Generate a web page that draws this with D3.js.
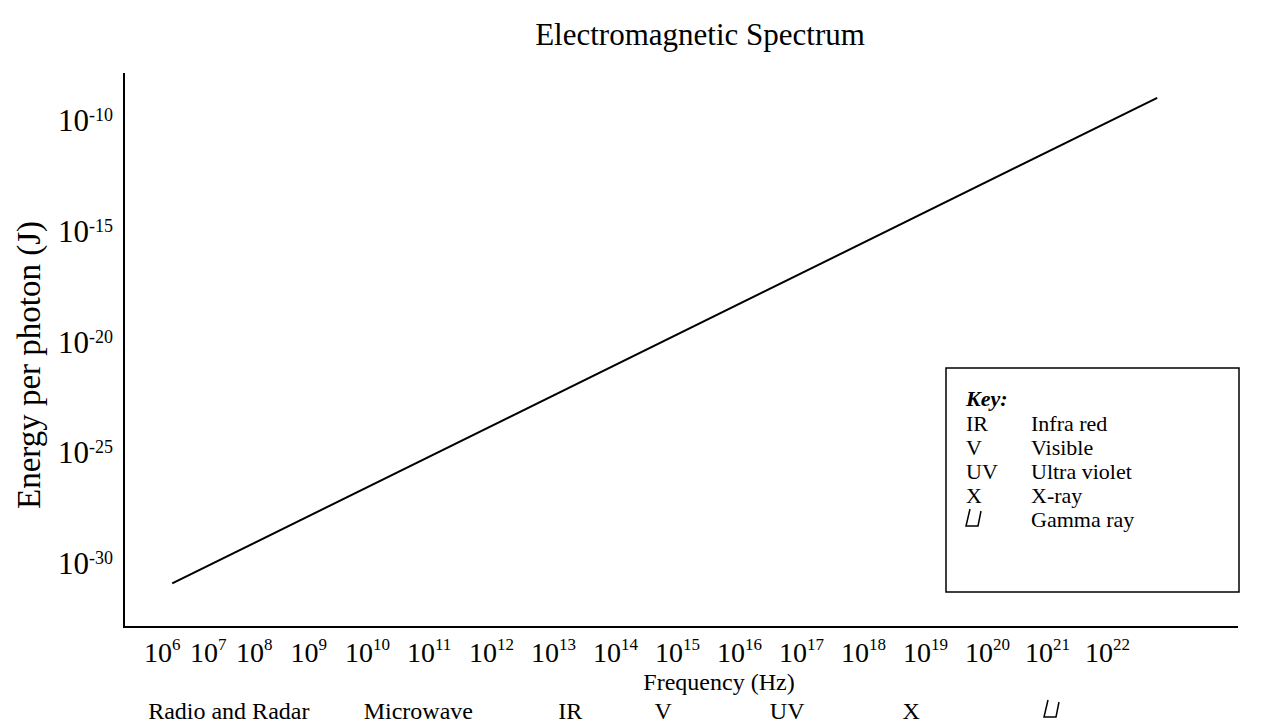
<!DOCTYPE html>
<html lang="en">
<head>
<meta charset="UTF-8">
<title>Electromagnetic Spectrum</title>
<style>
body { margin: 0; background: #fff; }
text { font-family: "Liberation Serif", "Times New Roman", serif; fill: #000; }
</style>
</head>
<body>
<div id="chart"></div>
<script src="https://cdnjs.cloudflare.com/ajax/libs/d3/7.8.2/d3.min.js"></script>
<script>
// frequency tick exponents (10^n Hz)
var freqTicks = [6, 7, 8, 9, 10, 11, 12, 13, 14, 15, 16, 17, 18, 19, 20, 21, 22];
// energy tick exponents (10^n J)
var energyTicks = [-10, -15, -20, -25, -30];
// the plotted line, log10 values
var lineFreq = [6.57, 23.17];
var lineEnergy = [-30.92, -9.0];
// spectrum bands under the axis, centred at these log10 frequencies
var bandNames = ["Radio and Radar", "Microwave", "IR", "V", "UV", "X", "\u03b3"];
var bandFreq = [7.8, 11.15, 13.6, 15.1, 17.1, 19.1, 21.4];
// key
var keyCodes = ["IR", "V", "UV", "X", "\u03b3"];
var keyNames = ["Infra red", "Visible", "Ultra violet", "X-ray", "Gamma ray"];

var width = 1266, height = 727;
var frameL = 124, frameR = 1238, frameT = 73, frameB = 627;

var svg = d3.select("#chart").append("svg")
  .attr("width", width)
  .attr("height", height);

// the label spacing is uneven in the original, so the scale is piecewise
var x = d3.scaleLinear()
  .domain([6, 8, 10, 20, 22])
  .range([146, 238, 347, 967, 1087]);

var y = d3.scaleLinear()
  .domain([-30, -10])
  .range([563, 120]);

// title
svg.append("text")
  .attr("x", 700).attr("y", 45)
  .attr("text-anchor", "middle")
  .attr("font-size", 31)
  .text("Electromagnetic Spectrum");

// frame
svg.append("line")
  .attr("x1", frameL).attr("x2", frameL).attr("y1", frameT).attr("y2", frameB)
  .attr("stroke", "#000").attr("stroke-width", 2);
svg.append("line")
  .attr("x1", frameL - 1).attr("x2", frameR).attr("y1", frameB).attr("y2", frameB)
  .attr("stroke", "#000").attr("stroke-width", 2);

// y tick labels
var yt = svg.selectAll(".ytick")
  .data(energyTicks)
  .enter().append("text")
  .attr("class", "ytick")
  .attr("x", 58)
  .attr("y", function(d) { return y(d) + 11; })
  .attr("font-size", 31);
yt.append("tspan").text("10");
yt.append("tspan")
  .attr("font-size", 18)
  .attr("dy", -10)
  .text(function(d) { return "-" + Math.abs(d); });

// x tick labels
var xt = svg.selectAll(".xtick")
  .data(freqTicks)
  .enter().append("text")
  .attr("class", "xtick")
  .attr("x", function(d) { return x(d) - 2; })
  .attr("y", 662)
  .attr("font-size", 28);
xt.append("tspan").text("10");
xt.append("tspan")
  .attr("font-size", 17)
  .attr("dy", -12)
  .text(function(d) { return d; });

// axis titles
svg.append("text")
  .attr("transform", "translate(40," + 365 + ") rotate(-90)")
  .attr("text-anchor", "middle")
  .attr("font-size", 33)
  .text("Energy per photon (J)");

svg.append("text")
  .attr("x", x(16)).attr("y", 690)
  .attr("text-anchor", "middle")
  .attr("font-size", 24)
  .text("Frequency (Hz)");

// gamma glyph is drawn as the boxy symbol seen in the original
function gammaPath(cx, base) {
  var p = d3.path();
  p.moveTo(cx - 3, base - 17);
  p.lineTo(cx - 7, base);
  p.lineTo(cx + 5, base);
  p.lineTo(cx + 8, base - 15);
  return p.toString();
}

var bands = svg.selectAll(".band")
  .data(bandNames)
  .enter().append("g")
  .attr("class", "band");
bands.filter(function(d) { return d !== "\u03b3"; })
  .append("text")
  .attr("x", function(d) { return x(bandFreq[bandNames.indexOf(d)]); })
  .attr("y", 719)
  .attr("text-anchor", "middle")
  .attr("font-size", 24)
  .text(function(d) { return d; });
bands.filter(function(d) { return d === "\u03b3"; })
  .append("path")
  .attr("d", function(d) { return gammaPath(x(bandFreq[bandNames.indexOf(d)]), 717); })
  .attr("fill", "none").attr("stroke", "#000").attr("stroke-width", 1.5);

// the line
var line = d3.line()
  .x(function(d) { return x(d[0]); })
  .y(function(d) { return y(d[1]); });
svg.append("path")
  .datum(d3.zip(lineFreq, lineEnergy))
  .attr("d", line)
  .attr("fill", "none")
  .attr("stroke", "#000")
  .attr("stroke-width", 2);

// key box
var key = svg.append("g").attr("transform", "translate(946,368)");
key.append("rect")
  .attr("width", 293).attr("height", 224)
  .attr("fill", "#fff").attr("stroke", "#000").attr("stroke-width", 1.5);
key.append("text")
  .attr("x", 20).attr("y", 38)
  .attr("font-size", 22)
  .attr("font-weight", "bold").attr("font-style", "italic")
  .text("Key:");
var rows = key.selectAll(".krow")
  .data(keyCodes)
  .enter().append("g")
  .attr("class", "krow")
  .attr("transform", function(d, i) { return "translate(0," + (63 + i * 24) + ")"; });
rows.filter(function(d) { return d !== "\u03b3"; })
  .append("text")
  .attr("x", 20)
  .attr("font-size", 22)
  .text(function(d) { return d; });
rows.filter(function(d) { return d === "\u03b3"; })
  .append("path")
  .attr("d", gammaPath(27, -1))
  .attr("fill", "none").attr("stroke", "#000").attr("stroke-width", 1.5);
rows.append("text")
  .attr("x", 85)
  .attr("font-size", 22)
  .text(function(d, i) { return keyNames[i]; });
</script>
</body>
</html>
